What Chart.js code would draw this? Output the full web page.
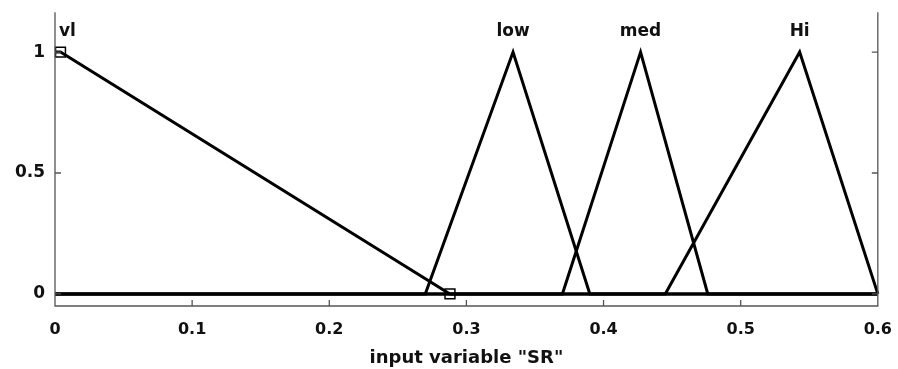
<!DOCTYPE html>
<html lang="en">
<head>
<meta charset="UTF-8">
<title>Membership functions SR</title>
<script src="https://cdn.jsdelivr.net/npm/chart.js@4"></script>
<style>
  html, body { margin: 0; padding: 0; background: #fff; }
  #wrap { width: 898px; height: 369px; }
</style>
</head>
<body>
<div id="wrap"><canvas id="mf"></canvas></div>
<script>
// membership function names and their break points (x, mu)
const mfNames = ['vl', 'low', 'med', 'Hi'];
const vlX = [0, 0.004, 0.288, 0.6];
const vlY = [1, 1, 0, 0];
const lowX = [0, 0.27, 0.334, 0.39, 0.6];
const lowY = [0, 0, 1, 0, 0];
const medX = [0, 0.37, 0.427, 0.476, 0.6];
const medY = [0, 0, 1, 0, 0];
const hiX = [0, 0.445, 0.543, 0.6];
const hiY = [0, 0, 1, 0];
// squares drawn on the vl function
const markerX = [0.004, 0.288];
const markerY = [1, 0];
// label positions
const labelX = [0.009, 0.334, 0.427, 0.543];
const labelY = 1.085;
const xTicks = [0, 0.1, 0.2, 0.3, 0.4, 0.5, 0.6];
const yTicks = [0, 0.5, 1];
const xTitle = 'input variable "SR"';

const FONT = '"DejaVu Sans", Verdana, sans-serif';

function pts(xs, ys) { return xs.map((x, i) => ({ x: x, y: ys[i] })); }

const lineStyle = { borderColor: '#000', borderWidth: 3, pointRadius: 0, fill: false, tension: 0, showLine: true };

const frame = {
  id: 'frame',
  afterDraw(chart) {
    const c = chart.ctx, a = chart.chartArea;
    const xs = chart.scales.x, ys = chart.scales.y;
    c.save();
    c.strokeStyle = '#555';
    c.lineWidth = 1.3;
    c.beginPath();
    c.moveTo(a.left, a.top); c.lineTo(a.left, a.bottom); c.lineTo(a.right, a.bottom); c.lineTo(a.right, a.top);
    // inward ticks
    xTicks.forEach(v => {
      const px = xs.getPixelForValue(v);
      c.moveTo(px, a.bottom); c.lineTo(px, a.bottom - 6);
    });
    yTicks.forEach(v => {
      const py = ys.getPixelForValue(v);
      c.moveTo(a.left, py); c.lineTo(a.left + 6, py);
      c.moveTo(a.right, py); c.lineTo(a.right - 6, py);
    });
    c.stroke();
    // labels above peaks
    c.fillStyle = '#111';
    c.font = 'bold 17px ' + FONT;
    c.textAlign = 'center';
    c.textBaseline = 'middle';
    mfNames.forEach((n, i) => {
      c.fillText(n, xs.getPixelForValue(labelX[i]), ys.getPixelForValue(labelY));
    });
    c.restore();
  }
};

new Chart(document.getElementById('mf'), {
  type: 'scatter',
  data: {
    datasets: [
      Object.assign({ label: mfNames[0], data: pts(vlX, vlY) }, lineStyle),
      Object.assign({ label: mfNames[1], data: pts(lowX, lowY) }, lineStyle),
      Object.assign({ label: mfNames[2], data: pts(medX, medY) }, lineStyle),
      Object.assign({ label: mfNames[3], data: pts(hiX, hiY) }, lineStyle),
      {
        label: 'markers', data: pts(markerX, markerY), showLine: false,
        pointStyle: 'rect', pointRadius: 7, pointBorderWidth: 1.5,
        pointBorderColor: '#000', pointBackgroundColor: '#fff'
      }
    ]
  },
  plugins: [frame],
  options: {
    responsive: true,
    maintainAspectRatio: false,
    animation: false,
    clip: false,
    layout: { padding: { top: 4, right: 17, left: 0, bottom: 0 } },
    plugins: { legend: { display: false }, tooltip: { enabled: false } },
    scales: {
      x: {
        type: 'linear', min: 0, max: 0.6,
        afterBuildTicks: s => { s.ticks = xTicks.map(v => ({ value: v })); },
        afterFit: s => { s.height = 63; },
        grid: { display: false },
        border: { display: false },
        ticks: { color: '#111', font: { family: FONT, size: 16, weight: 'bold' }, padding: 6, maxRotation: 0,
                 callback: v => String(v) },
        title: { display: true, text: xTitle, color: '#111', font: { family: FONT, size: 18, weight: 'bold' }, padding: { top: 1, bottom: 0 } }
      },
      y: {
        type: 'linear', min: -0.05, max: 1.165,
        afterBuildTicks: s => { s.ticks = yTicks.map(v => ({ value: v })); },
        afterFit: s => { s.width = 55; },
        grid: { display: false },
        border: { display: false },
        ticks: { color: '#111', font: { family: FONT, size: 17, weight: 'bold' }, padding: 2,
                 callback: v => String(v) }
      }
    }
  }
});
</script>
</body>
</html>
